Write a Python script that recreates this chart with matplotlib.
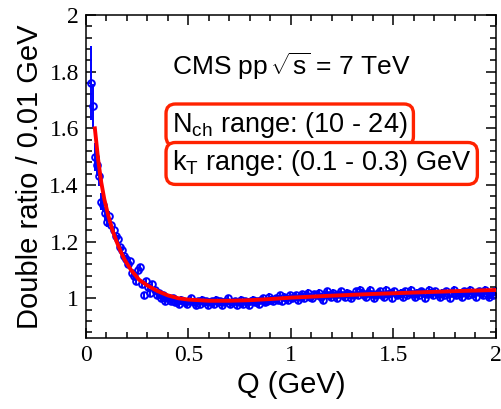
import numpy as np
import matplotlib
matplotlib.use("Agg")
import matplotlib.pyplot as plt
from matplotlib.ticker import MultipleLocator, FuncFormatter

plt.rcParams['mathtext.fontset'] = 'custom'
plt.rcParams['mathtext.rm'] = 'Liberation Sans'
plt.rcParams['mathtext.it'] = 'Liberation Sans:italic'

# ---- data: double ratio per 0.01 GeV bin, bin centres from 0.025 GeV ----
q_start = 0.025
q_step = 0.01
ratio = [
    1.76, 1.68, 1.50, 1.47, 1.43, 1.34, 1.33, 1.30, 1.27, 1.29,
    1.26, 1.24, 1.22, 1.21, 1.18, 1.17, 1.15, 1.14, 1.12, 1.13,
    1.09, 1.08, 1.06, 1.10, 1.11, 1.05, 1.01, 1.06, 1.04, 1.02,
    1.05, 1.03, 1.01, 1.02, 1.00, 1.01, 0.99, 1.00, 1.00, 0.99,
    1.00, 0.985, 0.99, 0.98, 0.995, 0.99, 0.985, 0.98, 0.99, 1.00,
    0.985, 0.975, 0.99, 0.98, 0.995, 0.985, 0.99, 0.975, 0.985, 0.99,
    0.98, 0.995, 0.985, 0.99, 0.975, 0.985, 0.99, 1.00, 0.98, 0.985,
    0.99, 0.975, 0.985, 0.995, 0.98, 0.99, 0.985, 0.975, 0.99, 0.995,
    0.985, 0.99, 0.98, 0.995, 1.00, 0.985, 0.99, 1.005, 0.995, 0.99,
    1.00, 0.995, 1.01, 0.99, 1.005, 1.00, 0.995, 1.01, 1.00, 1.005,
    1.01, 0.995, 1.005, 1.015, 1.00, 1.01, 1.02, 1.005, 1.00, 1.015,
    1.01, 1.02, 1.005, 0.995, 1.015, 1.025, 1.01, 1.005, 1.02, 1.01,
    1.00, 1.015, 1.025, 1.01, 1.005, 1.02, 1.015, 1.00, 1.01, 1.025,
    1.01, 1.03, 1.02, 1.01, 1.005, 1.02, 1.03, 1.015, 1.00, 1.01,
    1.02, 1.025, 1.01, 1.005, 1.03, 1.015, 1.02, 1.00, 1.025, 1.01,
    1.015, 1.02, 1.005, 1.025, 1.01, 1.02, 1.03, 1.015, 1.005, 1.02,
    1.01, 1.025, 1.02, 1.00, 1.015, 1.03, 1.02, 1.01, 1.025, 1.015,
    1.005, 1.02, 1.01, 1.025, 1.015, 1.00, 1.02, 1.03, 1.01, 1.02,
    1.015, 1.005, 1.025, 1.02, 1.01, 1.03, 1.015, 1.02, 1.005, 1.025,
    1.02, 1.01, 1.03, 1.015, 1.005, 1.02, 1.01, 1.025,
]
err_low_q = [0.13, 0.075, 0.05, 0.04, 0.035, 0.03, 0.025, 0.022, 0.02, 0.018]
err_typical = 0.012

# fit curve
fit_q = [0.044, 0.06, 0.075, 0.09, 0.11, 0.13, 0.15, 0.17, 0.19, 0.22,
         0.26, 0.30, 0.35, 0.40, 0.45, 0.50, 0.60, 0.70, 0.80, 0.90,
         1.00, 1.20, 1.40, 1.60, 1.80, 2.00]
fit_v = [1.60, 1.49, 1.41, 1.35, 1.29, 1.24, 1.20, 1.165, 1.135, 1.10,
         1.065, 1.045, 1.025, 1.01, 1.0, 0.995, 0.991, 0.991, 0.993, 0.997,
         1.002, 1.009, 1.015, 1.020, 1.025, 1.029]

x_ticks = [0, 0.5, 1, 1.5, 2]
y_ticks = [1.0, 1.2, 1.4, 1.6, 1.8, 2.0]

q = q_start + q_step * np.arange(len(ratio))
err = np.full(len(ratio), err_typical)
err[:len(err_low_q)] = err_low_q

fig = plt.figure(figsize=(5.02, 4.09), dpi=100)
ax = fig.add_axes([0.171, 0.174, 0.817, 0.789])

blue = '#0000ff'
ax.errorbar(q, ratio, yerr=err, fmt='o', ms=4.8, mfc='none', mec=blue,
            mew=1.4, ecolor=blue, elinewidth=1.4, capsize=0, zorder=2)
ax.plot(fit_q, fit_v, color='#ff0000', lw=2.8, zorder=3)

ax.set_xlim(0, 2)
ax.set_ylim(0.86, 2.0)
ax.set_xticks(x_ticks)
ax.set_yticks(y_ticks)
ax.xaxis.set_minor_locator(MultipleLocator(0.1))
ax.yaxis.set_minor_locator(MultipleLocator(0.04))
fmt = FuncFormatter(lambda v, p: '%g' % v)
ax.xaxis.set_major_formatter(fmt)
ax.yaxis.set_major_formatter(fmt)
ax.tick_params(which='both', direction='in', top=True, right=True,
               width=1.1, color='black')
ax.tick_params(which='major', length=7.5, pad=5)
ax.tick_params(which='minor', length=4)
for lab in ax.get_xticklabels() + ax.get_yticklabels():
    lab.set_fontfamily('Liberation Serif')
    lab.set_fontsize(17)
for s in ax.spines.values():
    s.set_linewidth(1.1)

ax.set_xlabel('Q (GeV)', fontfamily='Liberation Sans', fontsize=21, labelpad=4)
ax.set_ylabel('Double ratio / 0.01 GeV', fontfamily='Liberation Sans',
              fontsize=21, labelpad=4)

ax.text(0.42, 1.79, r'CMS pp $\!\sqrt{\mathrm{s}}$ = 7 TeV',
        fontfamily='Liberation Sans', fontsize=19, ha='left', va='baseline')
box = dict(boxstyle='round,pad=0.22,rounding_size=0.35', fc='white',
           ec='#ff2200', lw=2.4)
ax.text(0.42, 1.612, r'N$_{\mathrm{ch}}$ range: (10 - 24)',
        fontfamily='Liberation Sans', fontsize=19.5, ha='left', va='center',
        bbox=box)
ax.text(0.42, 1.476, r'k$_{\mathrm{T}}$ range: (0.1 - 0.3) GeV',
        fontfamily='Liberation Sans', fontsize=19.5, ha='left', va='center',
        bbox=box)

fig.savefig('out.png', dpi=100)
